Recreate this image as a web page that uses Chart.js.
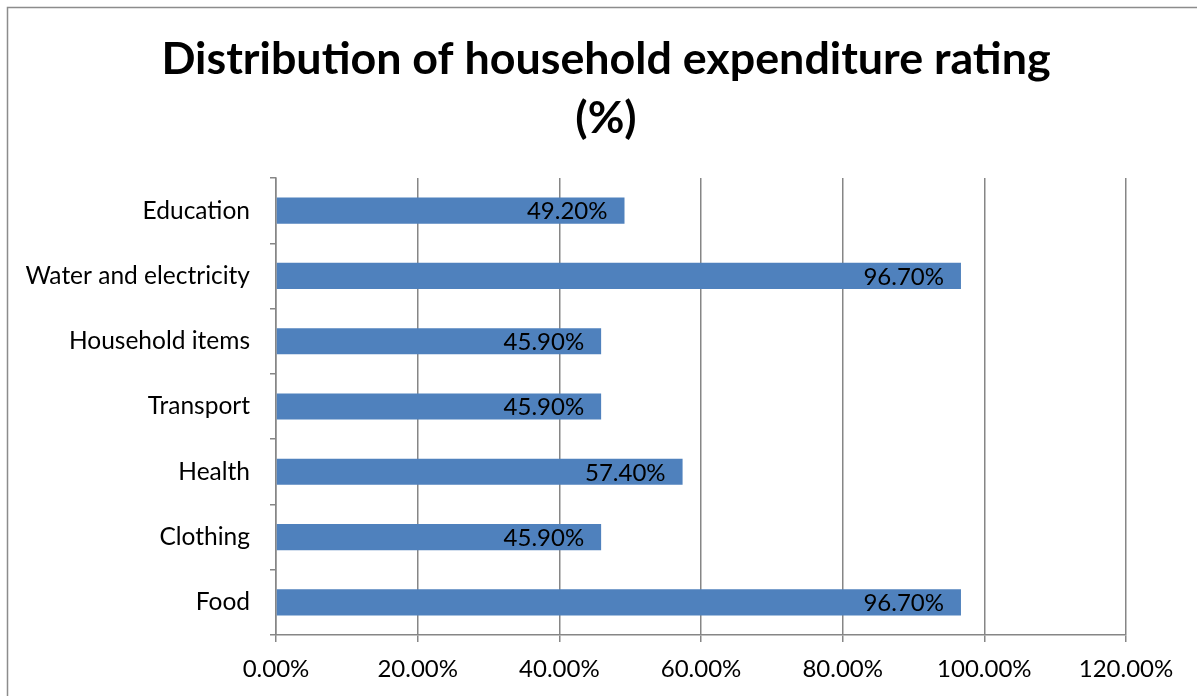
<!DOCTYPE html>
<html>
<head>
<meta charset="utf-8">
<title>Distribution of household expenditure rating (%)</title>
<script src="https://cdn.jsdelivr.net/npm/chart.js@4.4.1/dist/chart.umd.min.js"></script>
<style>
  html, body { margin: 0; padding: 0; background: #ffffff; }
  #wrap { width: 1197px; height: 696px; position: relative; }
</style>
</head>
<body>
<div id="wrap"><canvas id="chart" width="1197" height="696"></canvas></div>
<script>
// Expenditure categories, bottom to top
const categories = ['Food', 'Clothing', 'Health', 'Transport', 'Household items', 'Water and electricity', 'Education'];
// Share of households rating each expense (%)
const ratingPercent = [96.7, 45.9, 57.4, 45.9, 45.9, 96.7, 49.2];
// Value axis ticks (%)
const xTickValues = [0, 20, 40, 60, 80, 100, 120];
const titleLines = ['Distribution of household expenditure rating', '(%)'];

const FONT = 'Lato, "Open Sans", sans-serif';
const GRID = '#868686';
const BAR = '#4F81BD';

// Outer frame of the chart box
const framePlugin = {
  id: 'frame',
  beforeDraw(chart) {
    const ctx = chart.ctx;
    ctx.save();
    ctx.strokeStyle = '#8c8c8c';
    ctx.lineWidth = 1.5;
    ctx.beginPath();
    ctx.moveTo(7.5, chart.height);
    ctx.lineTo(7.5, 7.5);
    ctx.lineTo(chart.width, 7.5);
    ctx.stroke();
    ctx.restore();
  }
};

// Value labels placed inside the end of each bar
const barLabelPlugin = {
  id: 'barLabels',
  afterDatasetsDraw(chart) {
    const ctx = chart.ctx;
    const meta = chart.getDatasetMeta(0);
    const values = chart.data.datasets[0].data;
    ctx.save();
    ctx.font = '24px ' + FONT;
    ctx.fillStyle = '#000000';
    ctx.textAlign = 'right';
    ctx.textBaseline = 'middle';
    meta.data.forEach((bar, i) => {
      ctx.fillText(values[i].toFixed(2) + '%', bar.x - 17, bar.y + 1);
    });
    ctx.restore();
  }
};

new Chart(document.getElementById('chart'), {
  type: 'bar',
  data: {
    labels: categories,
    datasets: [{
      data: ratingPercent,
      backgroundColor: BAR,
      borderWidth: 0,
      barPercentage: 0.4,
      categoryPercentage: 1.0
    }]
  },
  options: {
    indexAxis: 'y',
    responsive: false,
    animation: false,
    events: [],
    layout: { padding: { left: 15, right: 0, top: 0, bottom: 0 } },
    plugins: {
      legend: { display: false },
      tooltip: { enabled: false },
      title: {
        display: true,
        text: titleLines,
        color: '#000000',
        font: { family: FONT, size: 44.8, weight: 'bold', lineHeight: 1.317 },
        padding: { top: 30, bottom: 30 }
      }
    },
    scales: {
      x: {
        type: 'linear',
        min: 0,
        max: 120,
        afterBuildTicks(scale) {
          scale.ticks = xTickValues.map(v => ({ value: v }));
        },
        afterFit(scale) {
          scale.height = 61;
          scale.paddingRight = 71;
        },
        grid: { color: GRID, lineWidth: 1.5, tickLength: 7, drawTicks: true },
        border: { color: GRID, width: 1.5 },
        ticks: {
          color: '#000000',
          font: { family: FONT, size: 24 },
          padding: 13,
          maxRotation: 0,
          callback: v => Number(v).toFixed(2) + '%'
        }
      },
      y: {
        type: 'category',
        reverse: true,
        afterFit(scale) { scale.width = 261; },
        grid: { offset: true, drawOnChartArea: false, drawTicks: true, tickLength: 6, color: GRID, lineWidth: 1.5 },
        border: { color: GRID, width: 1.5 },
        ticks: {
          color: '#000000',
          font: { family: FONT, size: 24.5 },
          padding: 20
        }
      }
    }
  },
  plugins: [framePlugin, barLabelPlugin]
});
</script>
</body>
</html>
